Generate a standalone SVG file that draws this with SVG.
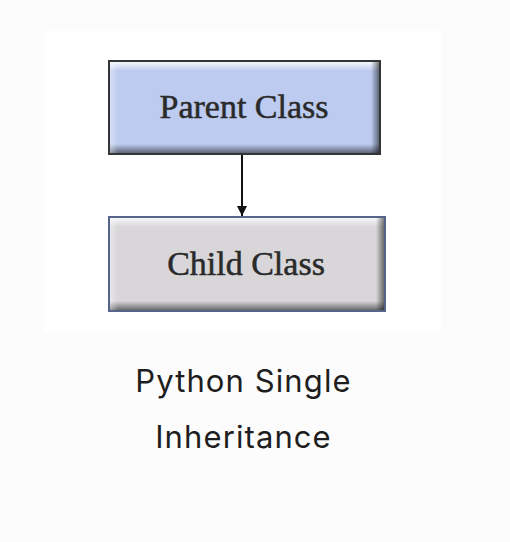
<svg xmlns="http://www.w3.org/2000/svg" width="510" height="542" viewBox="0 0 510 542">
  <style>
    .lbl { font-family: "Liberation Serif", "Times New Roman", serif; font-size: 34px; fill: #2a2a2a; stroke: #2a2a2a; stroke-width: 0.5; text-anchor: middle; }
    .cap { font-family: Inter, "Noto Sans", "Liberation Sans", sans-serif; font-size: 31px; letter-spacing: 1.1px; fill: #1e1e1e; text-anchor: middle; }
  </style>
  <defs>
    <linearGradient id="bevT" x1="0" y1="0" x2="0" y2="1">
      <stop offset="0" stop-color="#ffffff" stop-opacity="0.85"/>
      <stop offset="1" stop-color="#ffffff" stop-opacity="0"/>
    </linearGradient>
    <linearGradient id="bevB" x1="0" y1="0" x2="0" y2="1">
      <stop offset="0" stop-color="#000000" stop-opacity="0"/>
      <stop offset="1" stop-color="#000000" stop-opacity="0.5"/>
    </linearGradient>
    <linearGradient id="bevL" x1="0" y1="0" x2="1" y2="0">
      <stop offset="0" stop-color="#ffffff" stop-opacity="0.4"/>
      <stop offset="1" stop-color="#ffffff" stop-opacity="0"/>
    </linearGradient>
    <linearGradient id="bevR" x1="0" y1="0" x2="1" y2="0">
      <stop offset="0" stop-color="#000000" stop-opacity="0"/>
      <stop offset="1" stop-color="#000000" stop-opacity="0.5"/>
    </linearGradient>
    <marker id="arr" viewBox="0 0 10 10" refX="10" refY="5" markerWidth="5" markerHeight="5" orient="auto" markerUnits="strokeWidth">
      <path d="M0,0 L10,5 L0,10 z" fill="#111"/>
    </marker>
  </defs>
  <rect x="0" y="0" width="510" height="542" fill="#fcfcfc"/>
  <rect x="44" y="31" width="397" height="302" fill="#ffffff"/>

  <g id="parent">
    <rect x="109" y="61" width="271" height="93" fill="#bccbef" stroke="#333538" stroke-width="2"/>
    <rect x="110" y="62" width="269" height="9" fill="url(#bevT)"/>
    <rect x="110" y="144" width="269" height="9" fill="url(#bevB)"/>
    <rect x="110" y="62" width="8" height="91" fill="url(#bevL)"/>
    <rect x="371" y="62" width="8" height="91" fill="url(#bevR)"/>
    <text class="lbl" x="244" y="118">Parent Class</text>
  </g>

  <g id="child">
    <rect x="109" y="217" width="276" height="94" fill="#d8d6d8" stroke="#56638a" stroke-width="2"/>
    <rect x="110" y="218" width="274" height="9" fill="url(#bevT)"/>
    <rect x="110" y="301" width="274" height="9" fill="url(#bevB)"/>
    <rect x="110" y="218" width="8" height="92" fill="url(#bevL)"/>
    <rect x="376" y="218" width="8" height="92" fill="url(#bevR)"/>
    <text class="lbl" x="246" y="275">Child Class</text>
  </g>

  <g id="connectors">
    <line x1="242" y1="155" x2="242" y2="216" stroke="#111" stroke-width="2" marker-end="url(#arr)"/>
  </g>

  <g id="caption">
    <text class="cap" x="243.5" y="392">Python Single</text>
    <text class="cap" x="243.5" y="448">Inheritance</text>
  </g>
</svg>
